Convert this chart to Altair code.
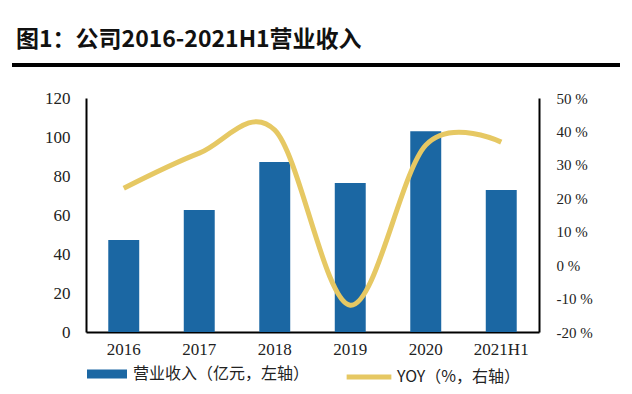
import altair as alt
import pandas as pd

categories = ["2016", "2017", "2018", "2019", "2020", "2021H1"]
revenue = [47.2, 62.6, 87.2, 76.4, 103.0, 72.8]
yoy = [23.0, 33.5, 40.4, -12.0, 35.9, 36.8]

bar_name = "营业收入（亿元，左轴）"
line_name = "YOY（%，右轴）"

df = pd.DataFrame({"year": categories, "revenue": revenue, "yoy": yoy,
                   "s1": bar_name, "s2": line_name})

BLUE = "#1b67a3"
GOLD = "#e6c863"
SERIF = "Liberation Serif"
CJK = "Noto Sans CJK SC"

x = alt.X("year:N", sort=categories, title=None,
          scale=alt.Scale(paddingInner=0.59, paddingOuter=0.295),
          axis=alt.Axis(labelAngle=0, labelFont=SERIF, labelFontSize=17, labelColor="#222",
                        ticks=False, domainColor="#000", domainWidth=2, labelPadding=9))

bars = alt.Chart(df).mark_bar(color=BLUE).encode(
    x=x,
    y=alt.Y("revenue:Q", title=None,
            scale=alt.Scale(domain=[0, 120], nice=False),
            axis=alt.Axis(values=[0, 20, 40, 60, 80, 100, 120], grid=False, ticks=False,
                          domainColor="#000", domainWidth=2, labelFont=SERIF,
                          labelFontSize=17, labelColor="#222", labelPadding=16)),
    color=alt.Color("s1:N", scale=alt.Scale(range=[BLUE]),
                    legend=alt.Legend(title=None, orient="none", legendX=1, legendY=256,
                                      direction="horizontal",
                                      symbolType="M-1,-0.22H1V0.22H-1Z", symbolSize=1600,
                                      symbolStrokeWidth=0, labelFont=CJK, labelFontSize=16,
                                      labelColor="#222", labelOffset=6, labelLimit=400)),
)

line = alt.Chart(df).mark_line(color=GOLD, strokeWidth=5, interpolate="cardinal").encode(
    x=x,
    y=alt.Y("yoy:Q", title=None,
            scale=alt.Scale(domain=[-20, 50], nice=False),
            axis=alt.Axis(orient="right", values=[-20, -10, 0, 10, 20, 30, 40, 50],
                          grid=False, ticks=False, domainColor="#000", domainWidth=2,
                          labelFont=SERIF, labelFontSize=15, labelColor="#222",
                          labelPadding=17, labelExpr="datum.value + ' %'")),
    stroke=alt.Stroke("s2:N", scale=alt.Scale(range=[GOLD]),
                      legend=alt.Legend(title=None, orient="none", legendX=258, legendY=254,
                                        direction="horizontal", symbolType="stroke",
                                        symbolSize=2000, symbolStrokeWidth=5,
                                        labelFont=CJK, labelFontSize=16, labelColor="#222",
                                        labelOffset=3, labelLimit=400)),
)

rule = alt.Chart(df).mark_rule(color="#000", strokeWidth=4).encode(
    x=alt.value(-74), x2=alt.value(534), y=alt.value(-33))

chart = alt.layer(bars, line, rule).resolve_scale(y="independent", color="independent").properties(
    width=453, height=234,
    autosize=alt.AutoSizeParams(type="none"),
    padding={"left": 78, "top": 90, "right": 85, "bottom": 54},
    title=alt.TitleParams("图1：公司2016-2021H1营业收入", anchor="start", frame="group",
                          font=CJK, fontSize=23, fontWeight="bold", color="#111",
                          dx=-70, offset=11),
).configure_view(stroke=None)

chart.save("out.html", embed_options={"renderer": "svg", "actions": False})
